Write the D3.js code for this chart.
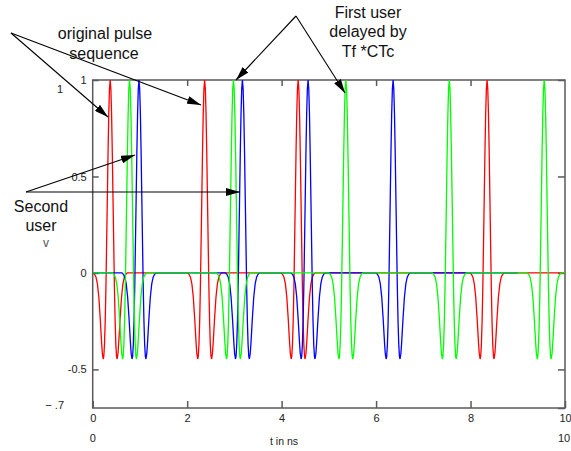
<!DOCTYPE html>
<html>
<head>
<meta charset="utf-8">
<script src="https://cdn.jsdelivr.net/npm/d3@7/dist/d3.min.js"></script>
<style>
  html, body { margin: 0; padding: 0; background: #fff; }
  svg { display: block; }
</style>
</head>
<body>
<script>
// ---------- data ----------
// peak times (ns) of each pulse per user series
const redPulses   = [0.37, 2.37, 4.35, 8.35];
const bluePulses  = [0.98, 3.17, 4.56, 6.36];
const greenPulses = [0.78, 2.98, 5.36, 7.55, 9.56];
// time span covered by each series (ns)
const redSpan   = [0, 10];
const blueSpan  = [0, 9.0];
const greenSpan = [0, 10];
// single pulse shape: [time offset from peak (ns), amplitude]
const pulseShape = [
  [-0.36, 0], [-0.33, -0.007], [-0.30, -0.022], [-0.27, -0.057], [-0.24, -0.126],
  [-0.21, -0.237], [-0.195, -0.303], [-0.18, -0.367], [-0.165, -0.419], [-0.147, -0.446],
  [-0.135, -0.433], [-0.12, -0.37], [-0.105, -0.25], [-0.09, -0.075], [-0.085, 0],
  [-0.06, 0.387], [-0.045, 0.623], [-0.03, 0.821], [-0.015, 0.953], [0, 1],
  [0.015, 0.953], [0.03, 0.821], [0.045, 0.623], [0.06, 0.387], [0.085, 0],
  [0.09, -0.075], [0.105, -0.25], [0.12, -0.37], [0.135, -0.433], [0.147, -0.446],
  [0.165, -0.419], [0.18, -0.367], [0.195, -0.303], [0.21, -0.237], [0.24, -0.126],
  [0.27, -0.057], [0.30, -0.022], [0.33, -0.007], [0.36, 0]
];
// axes
const xDomain = [0, 10];
const yDomain = [-0.7, 1];
const xTicks = [0, 2, 4, 6, 8, 10];
const xTickLabels = ["0", "2", "4", "6", "8", "10"];
const yTicks = [1, 0.5, 0, -0.5];
const yTickLabels = ["1", "0.5", "0", "-0.5"];
const xRangeLabels = ["0", "10"];
const yRangeLabels = ["1", "\u2212 .7"];
const xAxisTitle = "t in ns";

// ---------- drawing ----------
const W = 571, H = 451;
const svg = d3.select("body").append("svg").attr("width", W).attr("height", H);

const x = d3.scaleLinear().domain(xDomain).range([92.7, 565]);
const y = d3.scaleLinear().domain(yDomain).range([408, 80]);

const axisColor = "#5a5a5a";
const tickFont = "'Liberation Sans', Arial, sans-serif";

// frame
svg.append("rect")
  .attr("x", x(xDomain[0])).attr("y", y(yDomain[1]))
  .attr("width", x(xDomain[1]) - x(xDomain[0]))
  .attr("height", y(yDomain[0]) - y(yDomain[1]))
  .attr("fill", "none").attr("stroke", axisColor).attr("stroke-width", 1.5);

function styleAxis(g) {
  g.select(".domain").remove();
  g.selectAll(".tick line").attr("stroke", axisColor).attr("stroke-width", 1.5);
  g.selectAll(".tick text").attr("fill", "#222").style("font-family", tickFont).style("font-size", "11px");
}

svg.append("g").attr("transform", `translate(0,${y(yDomain[0])})`)
  .call(d3.axisBottom(x).tickValues(xTicks).tickSizeInner(-7).tickSizeOuter(0).tickPadding(6)
    .tickFormat((d, i) => xTickLabels[i]))
  .call(styleAxis);

svg.append("g").attr("transform", `translate(0,${y(yDomain[1])})`)
  .call(d3.axisTop(x).tickValues(xTicks.slice(1, -1)).tickSizeInner(-6).tickSizeOuter(0).tickFormat(""))
  .call(styleAxis);

svg.append("g").attr("transform", `translate(${x(xDomain[0])},0)`)
  .call(d3.axisLeft(y).tickValues(yTicks).tickSizeInner(-6).tickSizeOuter(0).tickPadding(6)
    .tickFormat((d, i) => yTickLabels[i]))
  .call(styleAxis);

svg.append("g").attr("transform", `translate(${x(xDomain[1])},0)`)
  .call(d3.axisRight(y).tickValues(yTicks.concat([yDomain[0]])).tickSizeInner(-7).tickSizeOuter(0).tickFormat(""))
  .call(styleAxis);

// range labels (Mathcad limits)
const rl = svg.append("g").style("font-family", tickFont).style("font-size", "11px").attr("fill", "#222");
rl.append("text").attr("x", x(xDomain[0])).attr("y", 442).attr("text-anchor", "middle").text(xRangeLabels[0]);
rl.append("text").attr("x", x(xDomain[1]) - 7).attr("y", 442).attr("text-anchor", "start").text(xRangeLabels[1]);
rl.append("text").attr("x", 63).attr("y", y(yDomain[1]) + 13).attr("text-anchor", "end").text(yRangeLabels[0]);
rl.append("text").attr("x", 64).attr("y", y(yDomain[0]) + 1).attr("text-anchor", "end").text(yRangeLabels[1]);
rl.append("text").attr("x", (x(3.5) + x(4.6)) / 2).attr("y", 445).attr("text-anchor", "middle")
  .style("font-size", "10.5px").text(xAxisTitle);

// series
function buildSeries(pulses, span) {
  const pts = [[span[0], 0]];
  pulses.forEach(p => pulseShape.forEach(([dt, v]) => pts.push([p + dt, v])));
  pts.push([span[1], 0]);
  return pts;
}
const series = [
  { color: "#ff0000", pts: buildSeries(redPulses, redSpan) },
  { color: "#0000ff", pts: buildSeries(bluePulses, blueSpan) },
  { color: "#00ff00", pts: buildSeries(greenPulses, greenSpan) }
];
const line = d3.line().x(d => x(d[0])).y(d => y(d[1]));
svg.append("g").selectAll("path").data(series).join("path")
  .attr("d", d => line(d.pts))
  .attr("fill", "none")
  .attr("stroke", d => d.color)
  .attr("stroke-width", 1.3);

// ---------- annotations ----------
const defs = svg.append("defs");
defs.append("marker").attr("id", "ah")
  .attr("viewBox", "0 0 14 8").attr("refX", 14).attr("refY", 4)
  .attr("markerWidth", 14).attr("markerHeight", 8)
  .attr("markerUnits", "userSpaceOnUse").attr("orient", "auto")
  .append("path").attr("d", "M0,0 L14,4 L0,8 Z").attr("fill", "#000");

const arrows = [
  [11, 33, 108, 117],
  [11, 33, 201, 105],
  [296, 16, 236, 80],
  [296, 16, 345, 93],
  [26, 192, 135, 155],
  [26, 192, 240, 192]
];
svg.append("g").selectAll("line").data(arrows).join("line")
  .attr("x1", d => d[0]).attr("y1", d => d[1]).attr("x2", d => d[2]).attr("y2", d => d[3])
  .attr("stroke", "#000").attr("stroke-width", 1.1).attr("marker-end", "url(#ah)");

const annFont = "'Liberation Sans', Arial, sans-serif";
const notes = [
  ["original pulse", 105, 39],
  ["sequence", 104, 59],
  ["First user", 368, 18],
  ["delayed by", 368, 37],
  ["Tf *CTc", 368, 57],
  ["Second", 41, 212],
  ["user", 41, 231]
];
svg.append("g").selectAll("text").data(notes).join("text")
  .attr("x", d => d[1]).attr("y", d => d[2]).attr("text-anchor", "middle")
  .style("font-family", annFont).style("font-size", "16px").attr("fill", "#111")
  .text(d => d[0]);
svg.append("text").attr("x", 46).attr("y", 247).attr("text-anchor", "middle")
  .style("font-family", annFont).style("font-size", "12px").attr("fill", "#555").text("v");
</script>
</body>
</html>
